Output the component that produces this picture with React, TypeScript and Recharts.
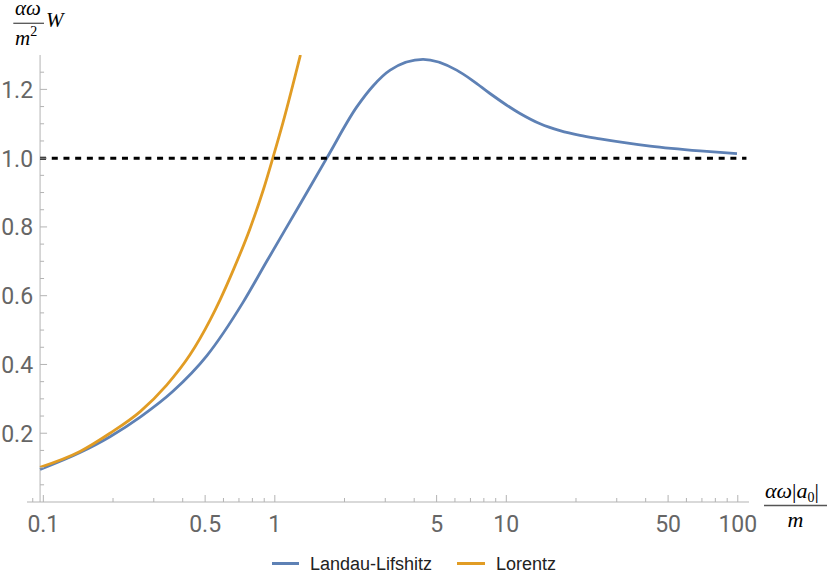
import { LineChart, Line, XAxis, YAxis, ReferenceLine } from 'recharts'

// Landau-Lifshitz curve
const LL_X = [0.0968, 0.144, 0.194, 0.262, 0.363, 0.508, 0.731, 0.923, 1.285, 1.676, 2.26, 2.656, 3.15, 4.37, 6.1, 7.18, 8.5, 11.46, 14.0, 17.06, 20.82, 25.4, 41.8, 68.7, 99.2]
const LL_W = [0.095, 0.144, 0.19, 0.247, 0.322, 0.425, 0.582, 0.7, 0.866, 1.0, 1.149, 1.21, 1.256, 1.287, 1.256, 1.225, 1.188, 1.13, 1.1, 1.08, 1.066, 1.056, 1.035, 1.021, 1.013]

// Lorentz curve
const LOR_X = [0.0968, 0.144, 0.194, 0.262, 0.341, 0.43, 0.525, 0.58, 0.662, 0.781, 0.892, 0.98, 1.085, 1.29]
const LOR_W = [0.101, 0.147, 0.2, 0.263, 0.34, 0.428, 0.529, 0.588, 0.675, 0.795, 0.908, 1.0, 1.104, 1.3]

const X_MAJOR = [0.1, 0.5, 1, 5, 10, 50, 100]
const X_MINOR = [0.09, 0.2, 0.3, 0.4, 0.6, 0.7, 0.8, 0.9, 2, 3, 4, 6, 7, 8, 9, 20, 30, 40, 60, 70, 80, 90]
const Y_MAJOR = [0.2, 0.4, 0.6, 0.8, 1.0, 1.2]
const Y_MINOR = [0.05, 0.1, 0.15, 0.25, 0.3, 0.35, 0.45, 0.5, 0.55, 0.65, 0.7, 0.75, 0.85, 0.9, 0.95, 1.05, 1.1, 1.15, 1.25]

const X_MIN = 0.085
const X_MAX = 111.8
const Y_AXIS_AT = 0.0968
const REF_END = 109

const W = 830
const H = 583
const MARGIN = { top: 55, right: 81, bottom: 51, left: 0 }
const Y_AXIS_WIDTH = 27
const PLOT_W = W - MARGIN.left - MARGIN.right - Y_AXIS_WIDTH

// pixel shift from plot edge to where the vertical axis crosses
const Y_AXIS_SHIFT = (PLOT_W * Math.log(Y_AXIS_AT / X_MIN)) / Math.log(X_MAX / X_MIN)

const BLUE = '#5E81B5'
const ORANGE = '#E19C24'
const AXIS_GREY = '#b3b3b3'
const LABEL_GREY = '#666666'
const TICK_FONT = 'Roboto, "Liberation Sans", sans-serif'
const MATH_FONT = '"Liberation Serif", "DejaVu Serif", serif'

const llData = LL_X.map((x, i) => ({ x, w: LL_W[i] }))
const lorData = LOR_X.map((x, i) => ({ x, w: LOR_W[i] }))

const fmtX = (v: number) => (v < 1 ? v.toFixed(1) : String(v))

const XTick = (props: any) => {
  const { x, y, payload } = props
  const major = X_MAJOR.includes(payload.value)
  return (
    <g>
      <line x1={x} x2={x} y1={y} y2={y - (major ? 7 : 4)} stroke={AXIS_GREY} strokeWidth={1} />
      {major && (
        <text x={x} y={y + 29.5} textAnchor='middle' fill={LABEL_GREY} fontSize={23} fontFamily={TICK_FONT}>
          {fmtX(payload.value)}
        </text>
      )}
    </g>
  )
}

const YTick = (props: any) => {
  const { x, y, payload } = props
  const ax = x + Y_AXIS_SHIFT
  const major = Y_MAJOR.some((m) => Math.abs(m - payload.value) < 1e-6)
  return (
    <g>
      <line x1={ax} x2={ax + (major ? 7 : 4)} y1={y} y2={y} stroke={AXIS_GREY} strokeWidth={1} />
      {major && (
        <text x={ax - 7} y={y + 8.5} textAnchor='end' fill={LABEL_GREY} fontSize={23} fontFamily={TICK_FONT}>
          {payload.value.toFixed(1)}
        </text>
      )}
    </g>
  )
}

const Overlay = () => (
  <svg width={W} height={H} style={{ position: 'absolute', left: 0, top: 0, pointerEvents: 'none' }}>
    {/* y label: αω/m² W */}
    <g fontFamily={MATH_FONT} fill='#000'>
      <text x={15} y={14.5} fontSize={21} fontStyle='italic'>αω</text>
      <line x1={13.3} x2={44} y1={23.3} y2={23.3} stroke='#555' strokeWidth={1.3} />
      <text x={15} y={45} fontSize={21}>
        <tspan fontStyle='italic'>m</tspan>
        <tspan fontSize={14} dy={-9}>2</tspan>
      </text>
      <text x={46} y={27} fontSize={21} fontStyle='italic'>W</text>
    </g>
    {/* x label: αω|a0|/m */}
    <g fontFamily={MATH_FONT} fill='#000'>
      <text x={765} y={498} fontSize={22}>
        <tspan fontStyle='italic'>αω</tspan>
        <tspan>|</tspan>
        <tspan fontStyle='italic'>a</tspan>
        <tspan fontSize={14} dy={4}>0</tspan>
        <tspan dy={-4}>|</tspan>
      </text>
      <line x1={764} x2={827} y1={505.5} y2={505.5} stroke='#555' strokeWidth={1.3} />
      <text x={795.5} y={527} fontSize={22} fontStyle='italic' textAnchor='middle'>m</text>
    </g>
    {/* legend */}
    <g fontFamily='"Liberation Sans", Arial, sans-serif' fontSize={18} fill='#222'>
      <line x1={272} x2={299} y1={563.5} y2={563.5} stroke={BLUE} strokeWidth={3} />
      <text x={310} y={570}>Landau-Lifshitz</text>
      <line x1={457} x2={485} y1={563.5} y2={563.5} stroke={ORANGE} strokeWidth={3} />
      <text x={496} y={570}>Lorentz</text>
    </g>
  </svg>
)

export default function App() {
  return (
    <div style={{ position: 'absolute', left: 0, top: 0, width: W, height: H, background: '#fff' }}>
      <LineChart width={W} height={H} margin={MARGIN}>
        <XAxis
          dataKey='x'
          type='number'
          scale='log'
          domain={[X_MIN, X_MAX]}
          allowDataOverflow={true}
          ticks={[...X_MAJOR, ...X_MINOR]}
          interval={0}
          tickSize={0}
          tickMargin={0}
          tickLine={false}
          axisLine={{ stroke: AXIS_GREY }}
          tick={XTick}
          height={30}
        />
        <YAxis
          type='number'
          domain={[0, 1.3]}
          allowDataOverflow={true}
          ticks={[...Y_MAJOR, ...Y_MINOR]}
          interval={0}
          tickSize={0}
          tickMargin={0}
          tickLine={false}
          axisLine={false}
          tick={YTick}
          width={Y_AXIS_WIDTH}
        />
        <ReferenceLine x={Y_AXIS_AT} stroke={AXIS_GREY} strokeWidth={1} ifOverflow='visible' />
        <Line
          data={llData}
          dataKey='w'
          type='monotone'
          stroke={BLUE}
          strokeWidth={2.8}
          dot={false}
          isAnimationActive={false}
          name='Landau-Lifshitz'
        />
        <Line
          data={lorData}
          dataKey='w'
          type='monotone'
          stroke={ORANGE}
          strokeWidth={2.8}
          dot={false}
          isAnimationActive={false}
          name='Lorentz'
        />
        <ReferenceLine
          segment={[{ x: Y_AXIS_AT, y: 1 }, { x: REF_END, y: 1 }]}
          stroke='#000'
          strokeWidth={3}
          strokeDasharray='6 5.7'
          ifOverflow='visible'
        />
      </LineChart>
      <Overlay />
    </div>
  )
}
